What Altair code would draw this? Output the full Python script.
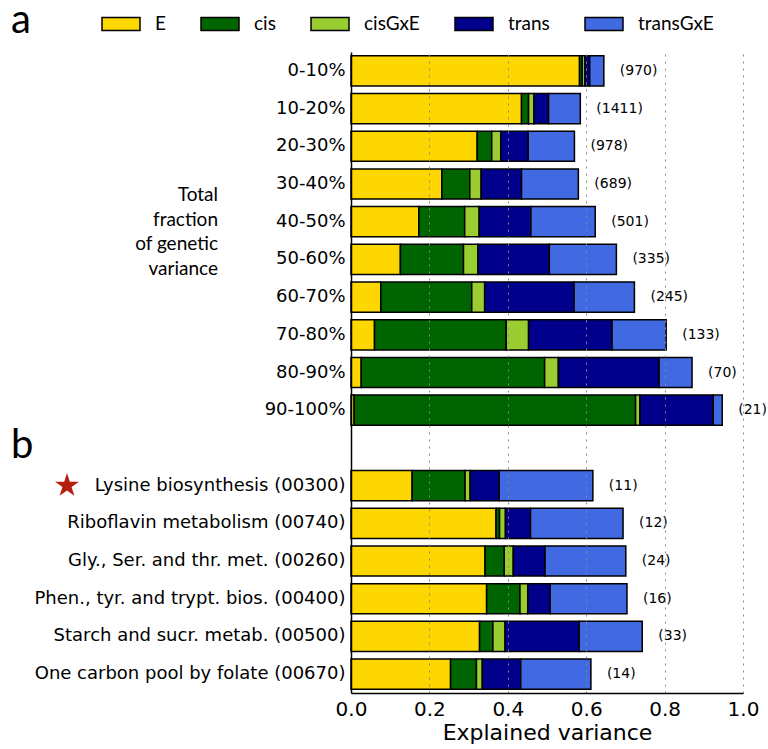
import altair as alt
import pandas as pd

# ---------------- data ----------------
components = ["E", "cis", "cisGxE", "trans", "transGxE"]
colors = ["#FFD700", "#006400", "#9ACD32", "#00008B", "#4169E1"]

labels_a = ["0-10%", "10-20%", "20-30%", "30-40%", "40-50%",
            "50-60%", "60-70%", "70-80%", "80-90%", "90-100%"]
labels_b = ["Lysine biosynthesis (00300)", "Riboflavin metabolism (00740)",
            "Gly., Ser. and thr. met. (00260)", "Phen., tyr. and trypt. bios. (00400)",
            "Starch and sucr. metab. (00500)", "One carbon pool by folate (00670)"]

E_vals = [0.583, 0.435, 0.322, 0.232, 0.173, 0.126, 0.076, 0.060, 0.026, 0.008,
          0.156, 0.370, 0.342, 0.346, 0.328, 0.254]
cis_vals = [0.007, 0.018, 0.037, 0.071, 0.117, 0.161, 0.232, 0.336, 0.468, 0.718,
            0.135, 0.009, 0.049, 0.085, 0.034, 0.066]
cisGxE_vals = [0.007, 0.014, 0.023, 0.029, 0.037, 0.037, 0.033, 0.057, 0.035, 0.011,
               0.013, 0.015, 0.023, 0.020, 0.031, 0.015]
trans_vals = [0.012, 0.037, 0.070, 0.103, 0.132, 0.182, 0.228, 0.213, 0.257, 0.187,
              0.074, 0.064, 0.081, 0.057, 0.189, 0.098]
transGxE_vals = [0.036, 0.081, 0.118, 0.145, 0.164, 0.171, 0.154, 0.138, 0.084, 0.023,
                 0.239, 0.236, 0.206, 0.196, 0.161, 0.179]
counts = [970, 1411, 978, 689, 501, 335, 245, 133, 70, 21,
          11, 12, 24, 16, 33, 14]

row_labels = labels_a + labels_b
y_domain = labels_a + [" "] + labels_b

series = [E_vals, cis_vals, cisGxE_vals, trans_vals, transGxE_vals]
rows = []
for ci, (comp, vals) in enumerate(zip(components, series)):
    for lab, v in zip(row_labels, vals):
        rows.append({"label": lab, "component": comp, "order": ci, "value": v})
df = pd.DataFrame(rows)

totals = [sum(s[i] for s in series) for i in range(len(row_labels))]
df_tot = pd.DataFrame({"label": row_labels, "total": totals,
                       "txt": ["(%d)" % c for c in counts]})

STAR = ("M0,-1L0.2245,-0.309L0.951,-0.309L0.363,0.118L0.588,0.809L0,0.382"
        "L-0.588,0.809L-0.363,0.118L-0.951,-0.309L-0.2245,-0.309Z")
RECT = "M-1,-0.342L1,-0.342L1,0.342L-1,0.342Z"

# ---------------- encodings ----------------
y_enc = alt.Y("label:N", sort=y_domain,
              scale=alt.Scale(domain=y_domain, paddingInner=0.2, paddingOuter=0.1),
              axis=alt.Axis(title=None, ticks=False, labelFontSize=18,
                            labelFont="DejaVu Sans", labelColor="black",
                            labelPadding=6, labelLimit=500,
                            domainColor="black", domainWidth=1.5, zindex=2))

x_scale = alt.Scale(domain=[0, 1], nice=False)

bars = alt.Chart(df).mark_bar(stroke="black", strokeWidth=1.5, opacity=1).encode(
    y=y_enc,
    x=alt.X("value:Q", stack="zero", scale=x_scale,
            axis=alt.Axis(values=[0, 0.2, 0.4, 0.6, 0.8, 1.0], format=".1f",
                          grid=True, gridDash=[2, 5], gridColor="#888888",
                          gridWidth=1,
                          gridOpacity=alt.condition("datum.value == 0",
                                                    alt.value(0), alt.value(1)),
                          ticks=False, labelFontSize=20, labelFlush=False,
                          labelFont="DejaVu Sans", labelColor="black",
                          labelPadding=6, title="Explained variance",
                          titleFontSize=22, titleFont="DejaVu Sans",
                          titleFontWeight="normal", titleColor="black",
                          titlePadding=3, domainColor="black", domainWidth=1.5,
                          zindex=1)),
    color=alt.Color("component:N",
                    scale=alt.Scale(domain=components, range=colors),
                    legend=alt.Legend(orient="none", legendX=-250, legendY=-48,
                                      direction="horizontal", columns=5, title=None,
                                      symbolType=RECT,
                                      symbolSize=1444, symbolStrokeColor="black",
                                      symbolStrokeWidth=1.5, symbolOpacity=1,
                                      labelFont="Lato", labelFontSize=19,
                                      labelColor="black", labelOffset=14,
                                      columnPadding=32)),
    order=alt.Order("order:Q"),
)

count_text = alt.Chart(df_tot).mark_text(
    align="left", baseline="middle", dx=16, fontSize=14, font="DejaVu Sans",
    color="black").encode(
    y=y_enc,
    x=alt.X("total:Q", scale=x_scale),
    text="txt:N",
)

one = pd.DataFrame({"t": [0]})

side_text = alt.Chart(one).mark_text(
    align="right", baseline="middle", font="Lato", fontSize=19,
    lineHeight=24.5, lineBreak="\n", color="black").encode(
    x=alt.value(-133), y=alt.value(143),
    text=alt.value("Total\nfraction\nof genetic\nvariance"),
)

letter_a = alt.Chart(one).mark_text(
    align="left", baseline="alphabetic", font="Lato", fontSize=40,
    color="black").encode(x=alt.value(-340), y=alt.value(-19), text=alt.value("a"))

letter_b = alt.Chart(one).mark_text(
    align="left", baseline="alphabetic", font="Lato", fontSize=40,
    color="black").encode(x=alt.value(-340), y=alt.value(406), text=alt.value("b"))

star = alt.Chart(pd.DataFrame({"label": [labels_b[0]]})).mark_point(
    shape=STAR, filled=True, color="#B5200D", size=635, opacity=1).encode(
    y=y_enc, x=alt.value(-284))

chart = alt.layer(bars, count_text, side_text, letter_a, letter_b, star).properties(
    width=392, height=641,
    autosize=alt.AutoSizeParams(type="none"),
    padding={"left": 351, "top": 52, "right": 25, "bottom": 56},
).configure_view(stroke=None)

chart.save("out.html", embed_options={"renderer": "svg", "actions": False})
